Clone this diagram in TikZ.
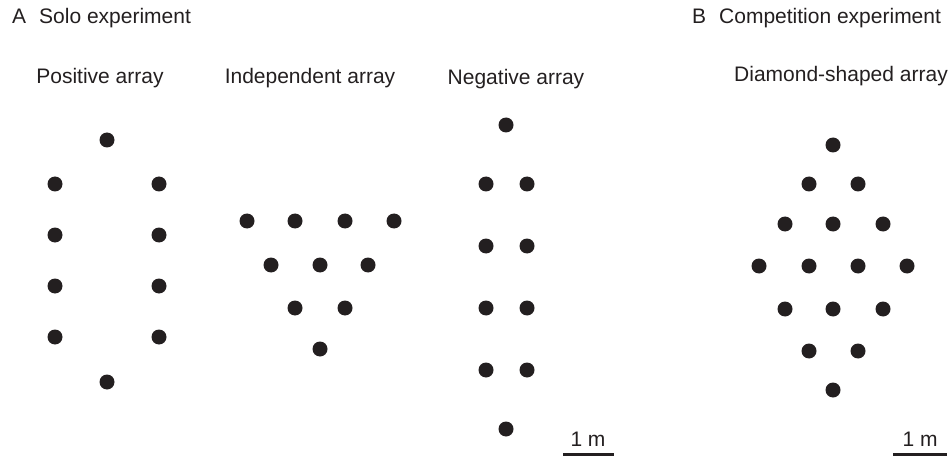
\documentclass[tikz,border=0pt]{standalone}
\usepackage{fontspec}
\setmainfont{Liberation Sans}
\begin{document}
\begin{tikzpicture}[x=1pt,y=-1pt,
  dot/.style={circle,fill=dotcol,draw=none,inner sep=0pt,minimum size=15pt},
  lbl/.style={font=\fontsize{21}{24}\selectfont,inner sep=0pt,text=dotcol},
  bar/.style={line width=3pt,draw=dotcol}]
\definecolor{dotcol}{HTML}{231F20}
\useasboundingbox (0,0) rectangle (950,457);
% titles
\node[lbl,anchor=base west] (tA) at (12,24) {A\hspace{13pt}Solo experiment};
\node[lbl,anchor=base west] (tB) at (692,24) {B\hspace{13pt}Competition experiment};
\node[lbl,anchor=base] (lp) at (100,84) {Positive array};
\node[lbl,anchor=base] (li) at (310,84) {Independent array};
\node[lbl,anchor=base] (ln) at (516,85) {Negative array};
\node[lbl,anchor=base] (ld) at (841,82) {Diamond-shaped array};
% positive array
\node[dot] (p1) at (107,140) {};
\node[dot] (p2) at (55,184) {};
\node[dot] (p3) at (159,184) {};
\node[dot] (p4) at (55,235) {};
\node[dot] (p5) at (159,235) {};
\node[dot] (p6) at (55,286) {};
\node[dot] (p7) at (159,286) {};
\node[dot] (p8) at (55,337) {};
\node[dot] (p9) at (159,337) {};
\node[dot] (p10) at (107,382) {};
% independent array
\node[dot] (i1) at (247,221) {};
\node[dot] (i2) at (295,221) {};
\node[dot] (i3) at (345,221) {};
\node[dot] (i4) at (394,221) {};
\node[dot] (i5) at (271,265) {};
\node[dot] (i6) at (320,265) {};
\node[dot] (i7) at (368,265) {};
\node[dot] (i8) at (295,308) {};
\node[dot] (i9) at (345,308) {};
\node[dot] (i10) at (320,349) {};
% negative array
\node[dot] (n1) at (506,125) {};
\node[dot] (n2) at (486,184) {};
\node[dot] (n3) at (527,184) {};
\node[dot] (n4) at (486,246) {};
\node[dot] (n5) at (527,246) {};
\node[dot] (n6) at (486,308) {};
\node[dot] (n7) at (527,308) {};
\node[dot] (n8) at (486,370) {};
\node[dot] (n9) at (527,370) {};
\node[dot] (n10) at (506,429) {};
% diamond array
\node[dot] (d1) at (833,145) {};
\node[dot] (d2) at (809,184) {};
\node[dot] (d3) at (858,184) {};
\node[dot] (d4) at (785,224) {};
\node[dot] (d5) at (833,224) {};
\node[dot] (d6) at (883,224) {};
\node[dot] (d7) at (759,266) {};
\node[dot] (d8) at (809,266) {};
\node[dot] (d9) at (858,266) {};
\node[dot] (d10) at (907,266) {};
\node[dot] (d11) at (785,309) {};
\node[dot] (d12) at (833,309) {};
\node[dot] (d13) at (883,309) {};
\node[dot] (d14) at (809,351) {};
\node[dot] (d15) at (858,351) {};
\node[dot] (d16) at (833,390) {};
% scale bars
\node[lbl,anchor=base] (s1) at (588,446) {1 m};
\coordinate (b1a) at (563,454.5);
\coordinate (b1b) at (614,454.5);
\draw[bar] (b1a) -- (b1b);
\node[lbl,anchor=base] (s2) at (920,446) {1 m};
\coordinate (b2a) at (893,454.5);
\coordinate (b2b) at (947,454.5);
\draw[bar] (b2a) -- (b2b);
\end{tikzpicture}
\end{document}
